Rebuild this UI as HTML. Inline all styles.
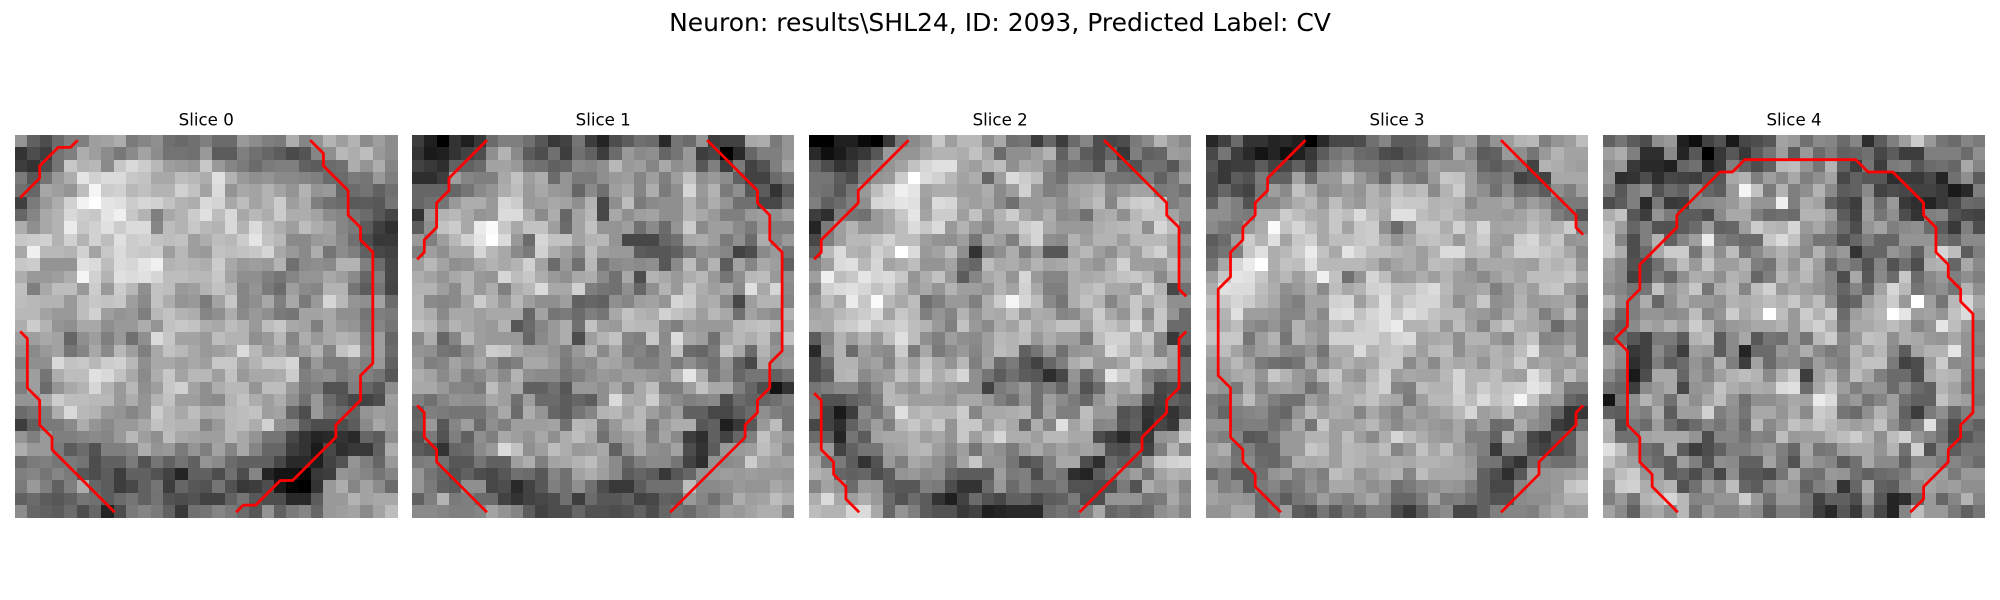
<!DOCTYPE html>
<html lang="en">
<head>
<meta charset="utf-8">
<title>Neuron slices</title>
<style>
html,body{margin:0;padding:0;background:#fff;width:2000px;height:600px;overflow:hidden}
svg{display:block}
text{font-family:"DejaVu Sans",sans-serif;fill:#000}
</style>
</head>
<body>
<svg id="figure" xmlns="http://www.w3.org/2000/svg" width="2000" height="600" viewBox="0 0 2000 600">
<rect x="0" y="0" width="2000" height="600" fill="#fff"/>
<text x="1000" y="31" text-anchor="middle" font-size="25">Neuron: results\SHL24, ID: 2093, Predicted Label: CV</text>
</svg>
<script>
const sliceLabels = ["Slice 0","Slice 1","Slice 2","Slice 3","Slice 4"];
const slice0 = [
[58,38,30,42,50,50,62,64,68,48,52,56,44,41,44,50,42,42,60,55,50,48,68,52,58,70,62,70,55,62,55],
[20,30,24,45,50,68,62,55,47,54,64,55,45,45,44,60,36,36,50,44,40,36,29,33,52,56,72,68,74,60,55],
[24,20,30,46,78,70,72,54,78,85,80,72,62,60,58,78,60,52,48,42,48,50,50,38,36,42,44,68,58,68,52],
[48,34,46,60,68,90,82,86,86,78,76,66,66,74,72,68,88,70,60,56,58,54,54,52,50,42,42,48,46,60,50],
[44,40,65,62,58,74,96,80,82,72,75,70,70,82,76,64,86,58,66,64,70,64,58,70,58,60,40,42,45,38,44],
[25,48,60,68,82,95,100,90,88,80,84,82,76,70,68,85,83,66,74,64,70,80,62,68,50,44,42,35,36,34,46],
[40,52,66,70,85,80,78,90,94,78,70,50,66,70,80,88,74,85,66,72,68,80,68,68,64,55,52,46,42,34,27],
[68,56,66,70,92,78,82,88,80,86,86,52,74,70,78,72,70,85,70,86,74,68,62,74,68,64,52,48,36,25,19],
[78,80,82,70,82,70,82,74,88,80,82,76,74,76,62,68,74,72,80,90,76,72,54,54,60,62,54,44,30,22,22],
[66,94,72,72,70,82,64,78,86,80,78,80,62,72,62,60,76,74,76,78,84,66,60,54,68,46,55,50,38,28,26],
[78,80,58,58,58,88,86,74,86,84,90,94,70,72,70,68,80,66,60,62,60,70,44,54,56,54,70,70,50,42,28],
[68,60,60,62,68,96,82,70,88,86,88,84,74,74,72,72,78,64,56,56,50,46,52,58,58,66,62,54,40,50,28],
[75,50,66,74,74,60,80,60,80,72,56,76,74,60,62,70,76,70,52,58,48,42,62,54,52,70,70,46,36,46,27],
[74,72,70,70,60,74,78,76,78,62,54,76,68,58,60,48,64,78,52,56,66,50,66,48,60,84,72,58,56,64,42],
[72,72,64,60,60,74,82,62,58,60,50,72,76,70,68,52,56,68,54,60,56,48,46,64,64,66,56,56,46,50,48],
[68,80,70,58,56,66,66,56,60,60,68,58,76,78,76,68,66,74,70,60,74,78,66,64,50,66,60,58,48,52,46],
[62,62,66,64,40,56,62,50,60,44,56,86,78,64,64,60,74,70,70,56,60,72,52,68,60,66,70,68,52,62,40],
[58,54,60,64,46,52,66,54,72,62,50,66,76,72,66,60,62,66,86,72,62,66,56,62,70,52,76,82,56,62,42],
[50,56,56,85,76,78,72,80,82,72,56,66,66,62,66,62,78,78,64,70,78,78,84,46,60,48,48,56,50,60,38],
[56,62,46,68,74,74,88,85,76,66,54,68,78,64,72,72,62,76,60,66,66,68,80,50,54,56,48,52,50,46,34],
[50,62,42,58,66,70,84,70,60,72,56,62,78,82,64,56,68,72,72,58,74,74,60,48,50,32,32,50,40,34,55],
[58,58,66,80,74,74,72,72,60,68,58,70,76,62,62,56,54,70,76,68,62,68,56,44,60,42,34,28,26,30,62],
[42,46,50,68,85,72,70,60,58,52,58,80,72,66,74,66,68,72,74,76,62,64,40,30,60,46,42,38,58,62,60],
[24,38,48,48,54,68,58,54,60,60,66,76,72,70,70,52,60,72,74,68,82,56,54,36,30,30,30,36,54,66,60],
[58,50,60,50,50,52,54,52,60,72,62,56,74,66,64,62,62,72,66,58,46,46,28,20,14,16,20,16,40,36,56],
[68,60,60,48,36,42,32,50,50,52,68,58,60,48,58,50,64,52,66,52,40,40,24,20,10,28,18,22,22,38,68],
[42,48,50,46,48,45,30,38,38,48,32,46,38,45,38,58,54,42,38,38,38,28,16,16,12,26,32,58,50,40,60],
[50,52,46,52,48,34,30,36,24,38,38,32,26,14,38,38,30,44,30,52,14,8,8,3,22,24,58,56,52,46,52],
[48,60,50,38,50,68,40,36,24,28,38,46,24,40,34,32,46,32,22,24,30,10,2,0,20,60,68,52,64,55,42],
[38,42,36,34,38,46,44,36,42,46,38,45,32,30,32,26,26,38,46,34,30,30,16,16,36,60,60,70,64,66,66],
[55,40,38,36,42,30,40,14,30,48,52,48,38,22,44,46,52,48,42,34,58,38,48,52,40,60,62,64,54,64,74]
];
const slice1 = [
[24,12,0,20,12,22,42,50,50,44,34,22,26,46,24,14,30,36,44,42,16,46,42,58,24,26,26,66,68,48,58],
[20,10,12,20,26,30,56,70,54,36,30,44,24,44,38,24,42,60,54,56,40,46,60,24,28,0,16,40,50,50,58],
[26,22,18,38,38,42,64,64,60,46,44,38,40,54,52,56,72,60,62,52,66,56,60,34,50,24,48,26,32,50,64],
[18,18,24,62,52,50,50,66,76,62,68,42,58,48,48,56,60,62,52,62,50,62,76,56,60,55,38,26,26,42,48],
[40,40,40,40,46,54,58,68,74,60,66,60,58,40,54,44,62,66,52,68,48,56,84,60,70,48,56,34,36,20,36],
[40,44,46,60,68,68,60,84,80,60,62,66,64,56,70,28,56,74,48,54,56,56,70,58,68,58,44,44,28,28,44],
[20,60,70,72,66,58,60,86,86,68,54,68,40,64,72,28,66,56,62,64,56,56,70,66,60,50,50,60,62,56,62],
[36,56,76,80,66,92,98,78,66,76,76,62,42,64,76,58,58,62,44,54,42,58,80,54,62,62,54,48,60,50,50],
[60,50,62,72,82,90,100,86,60,42,84,76,76,64,70,72,58,28,28,28,40,44,66,68,62,48,56,42,68,52,60],
[50,62,56,66,66,84,72,66,54,48,82,68,62,54,74,62,60,60,36,34,34,38,48,58,56,52,26,30,54,60,46],
[62,72,64,56,58,66,70,66,70,82,64,42,60,44,72,46,54,56,54,56,34,54,74,54,70,36,64,52,66,62,38],
[68,64,58,66,70,60,58,84,74,78,68,60,56,66,68,54,44,66,30,70,66,60,68,72,60,46,56,72,74,60,56],
[70,70,62,54,70,60,68,50,68,72,86,66,66,82,50,46,44,56,40,56,70,60,78,68,62,66,54,88,66,84,54],
[72,54,52,54,64,80,70,60,72,62,56,56,62,38,40,38,56,52,62,64,58,84,80,66,68,54,28,62,70,70,52],
[72,68,54,66,66,62,66,66,66,40,64,46,48,42,50,46,66,76,70,68,82,76,72,62,72,66,44,64,58,54,70],
[76,72,60,70,66,62,60,70,34,42,52,60,68,44,76,62,60,74,72,72,56,50,62,60,60,60,72,74,76,72,64],
[54,68,40,52,72,62,60,60,60,40,54,60,68,30,62,70,76,52,50,78,54,86,66,62,44,66,72,68,74,54,76],
[58,56,46,44,54,62,80,78,66,62,62,58,50,60,70,54,66,50,52,46,56,76,42,40,48,76,66,42,70,58,58],
[62,50,52,64,58,66,56,46,50,66,66,60,48,56,54,66,64,58,50,50,56,48,56,48,44,58,38,28,66,56,60],
[68,64,54,62,50,54,62,54,70,56,54,54,46,50,56,60,58,62,62,58,56,70,90,68,46,56,40,46,46,38,44],
[66,66,60,52,52,48,74,62,66,38,38,44,34,60,60,56,66,52,66,74,50,50,62,76,66,66,50,40,30,8,20],
[50,44,52,58,56,56,66,62,44,62,42,42,36,40,36,56,86,68,66,80,60,54,50,52,54,30,42,38,40,44,50],
[38,50,48,46,46,46,54,66,42,68,58,40,36,46,52,70,72,64,72,62,54,62,38,38,28,28,36,42,56,50,46],
[40,60,34,52,62,42,56,50,62,62,62,64,44,72,70,48,60,70,72,48,62,68,68,34,38,12,22,34,60,74,46],
[32,48,32,50,38,56,50,66,62,58,66,56,68,74,66,44,58,62,66,50,64,54,24,18,38,26,40,50,76,64,60],
[36,32,20,40,42,54,60,86,76,56,62,74,68,60,62,66,38,56,66,56,54,64,30,20,36,60,60,62,74,68,54],
[48,50,44,34,34,46,38,38,62,68,50,64,66,70,74,64,54,40,50,54,54,46,26,18,58,54,56,80,66,62,64],
[58,46,40,32,38,30,28,34,44,42,34,52,44,64,68,62,54,36,40,36,22,34,40,58,60,62,60,62,60,60,58],
[58,48,38,36,56,56,28,30,16,26,34,50,44,56,44,30,22,22,36,44,44,44,74,54,54,56,60,58,58,66,62],
[38,50,70,48,50,42,42,26,20,26,28,30,44,24,42,34,34,38,26,28,38,36,60,52,44,52,68,62,64,74,68],
[54,54,52,50,50,52,64,58,52,36,26,30,30,40,32,32,30,32,38,30,40,46,42,50,52,62,60,64,68,68,54]
];
const slice2 = [
[0,0,12,12,4,0,22,48,54,60,78,62,72,72,56,66,44,46,24,40,24,42,52,30,28,30,48,54,70,60,54],
[16,6,10,18,22,34,60,58,58,66,70,70,68,76,66,42,56,56,62,70,38,54,36,30,40,22,50,38,40,62,60],
[40,30,20,24,44,52,58,64,76,84,88,88,66,62,70,74,56,66,64,54,42,44,42,32,54,36,32,44,44,34,54],
[46,46,36,30,48,58,60,80,100,86,82,72,64,68,40,62,86,80,74,50,44,56,56,58,46,46,44,50,38,48,62],
[46,44,34,46,60,74,84,94,90,64,68,68,62,62,68,54,62,82,60,50,52,64,66,70,54,58,64,64,48,50,44],
[50,38,42,50,56,84,86,90,88,62,86,84,66,62,66,54,44,60,60,62,56,62,68,74,52,74,80,82,76,50,56],
[24,18,50,46,44,60,66,78,90,64,80,80,62,76,60,70,80,66,60,68,54,56,44,66,68,56,72,78,78,64,56],
[14,48,62,70,60,60,66,74,86,78,86,60,70,60,54,68,68,80,84,66,60,60,60,68,70,72,74,56,84,74,44],
[28,50,62,72,72,76,82,74,74,62,58,56,62,46,66,62,50,74,84,56,54,70,62,70,70,62,72,72,72,66,56],
[38,72,86,70,68,82,76,100,86,60,64,74,56,20,50,56,68,50,62,34,34,66,72,62,56,68,62,76,82,64,50],
[52,62,86,88,72,84,64,68,74,58,58,64,44,40,74,66,68,62,70,64,66,70,62,58,68,82,62,62,60,74,58],
[62,94,74,78,90,84,86,78,58,68,76,60,36,52,66,70,58,84,60,52,52,68,66,68,72,76,78,72,54,68,56],
[52,82,86,88,84,76,82,70,60,66,58,70,62,62,58,70,64,82,66,50,50,68,72,76,66,66,60,82,70,28,44],
[60,74,66,92,78,98,72,66,74,44,50,60,60,50,68,80,96,84,74,54,46,68,76,70,52,64,78,68,74,56,56],
[64,66,72,76,80,86,64,78,72,50,58,52,70,58,68,66,76,60,68,66,52,54,66,80,66,58,78,54,78,58,42],
[68,66,78,80,86,76,78,82,74,70,60,50,76,60,54,68,64,76,66,70,76,76,62,78,76,70,86,62,78,42,42],
[36,52,70,62,70,60,74,88,74,56,50,62,56,54,62,72,70,74,60,68,62,62,48,74,82,82,68,78,54,22,40],
[16,56,70,42,62,56,54,80,48,66,48,54,60,52,62,74,70,38,46,60,44,58,60,62,86,78,66,72,52,64,28],
[30,42,70,70,60,64,52,72,62,76,66,58,72,50,64,42,48,34,26,40,50,68,74,60,60,66,82,74,74,62,42],
[30,36,70,72,54,60,62,76,68,80,68,74,84,56,46,36,44,36,34,18,28,58,40,54,90,80,72,50,44,50,42],
[46,50,54,54,44,54,72,62,58,70,64,60,56,56,26,48,52,60,44,50,40,54,32,42,66,64,72,54,28,30,26],
[48,32,32,38,42,48,72,70,62,62,62,58,66,66,60,50,44,58,44,62,54,48,40,58,68,58,56,32,26,38,34],
[50,26,10,24,54,46,58,88,70,74,70,70,80,52,66,66,68,70,44,64,50,50,74,60,60,32,36,20,24,20,30],
[28,26,18,38,50,62,50,72,78,70,78,58,78,78,62,72,66,40,68,52,88,64,72,52,54,34,38,18,28,22,64],
[42,38,14,46,36,64,66,66,70,62,66,58,78,62,72,84,68,68,62,72,72,66,66,30,24,16,26,22,58,60,80],
[56,60,26,38,46,46,62,64,70,72,62,54,62,46,60,56,48,60,66,58,64,60,64,60,32,30,38,26,50,70,52],
[66,46,48,36,20,32,60,50,66,62,56,48,64,78,58,58,46,32,36,50,66,66,30,18,42,36,36,62,78,82,84],
[70,66,40,38,40,30,36,58,60,54,56,40,36,36,36,62,48,50,30,50,46,18,14,36,44,54,62,46,64,70,68],
[52,64,58,42,60,58,36,34,34,50,48,30,20,20,42,60,42,50,42,42,48,32,32,30,30,48,32,68,60,64,52],
[68,86,66,62,68,60,42,32,42,36,20,12,26,42,32,28,38,38,30,36,38,48,30,30,58,58,58,46,48,66,56],
[74,70,70,84,86,66,40,58,50,36,32,32,22,26,12,14,16,16,16,42,46,42,50,66,40,44,40,42,56,60,52]
];
const slice3 = [
[15,25,42,20,20,14,16,12,0,16,28,28,30,44,52,36,36,40,62,50,58,62,44,58,62,70,72,50,58,62,74],
[28,46,24,16,8,14,6,12,22,36,46,50,42,40,30,28,34,38,42,46,68,52,36,38,60,56,46,60,70,64,64],
[34,22,24,24,36,26,28,38,26,46,52,58,48,48,44,46,44,50,62,58,58,60,40,36,42,46,26,70,68,64,62],
[30,22,36,32,48,38,38,64,42,60,60,74,60,52,40,60,50,46,60,78,76,62,48,46,50,26,30,26,66,66,66],
[30,40,30,26,46,62,54,76,66,54,58,62,58,70,62,76,70,74,54,70,80,62,56,44,56,42,44,36,56,50,62],
[38,56,50,32,52,52,60,68,72,60,74,64,60,70,68,80,78,78,70,72,70,54,62,62,66,54,62,56,44,48,48],
[56,56,50,48,66,66,80,74,68,66,78,74,86,74,66,88,88,74,70,74,68,62,62,62,60,64,70,66,50,44,32],
[54,48,46,60,68,98,76,84,74,66,78,64,78,80,56,42,58,78,78,68,82,70,84,64,66,66,74,68,70,80,50],
[36,42,62,80,70,88,64,78,82,66,74,74,78,80,68,58,66,74,76,72,60,72,80,62,60,80,84,72,78,58,60],
[40,46,50,78,88,68,72,80,92,76,66,90,82,74,74,70,68,62,70,86,86,72,74,60,70,82,82,78,74,66,54],
[46,66,84,92,100,68,76,74,88,72,72,72,72,68,58,64,68,62,74,72,68,56,66,66,66,64,62,74,70,74,58],
[62,78,90,88,78,66,72,62,72,94,76,44,58,84,74,60,62,68,62,70,62,60,54,62,68,64,74,74,74,78,66],
[68,88,86,86,74,68,56,60,68,54,74,66,70,82,84,74,74,82,86,72,62,62,66,50,58,68,62,76,78,60,56],
[74,78,84,80,72,66,54,50,64,64,82,84,62,74,88,72,80,84,84,70,56,64,78,56,58,70,60,62,64,66,44],
[68,70,88,62,62,60,52,52,64,54,86,88,76,84,88,78,88,84,76,72,72,62,60,54,64,72,66,50,60,74,52],
[72,68,74,56,52,58,50,70,60,58,74,70,80,82,88,92,70,70,74,60,74,64,52,70,78,68,66,62,42,54,50],
[76,78,78,46,62,70,46,70,64,58,82,82,82,82,76,84,86,64,66,68,56,70,70,60,54,70,76,52,54,60,50],
[66,74,64,54,62,64,54,52,58,46,68,68,86,70,76,78,72,62,72,74,56,66,64,70,66,74,88,60,60,70,50],
[60,64,72,62,48,44,42,46,66,52,64,70,64,66,78,78,54,66,54,70,66,68,58,70,68,80,62,66,62,60,66],
[58,60,66,68,58,78,70,60,54,72,78,62,58,72,82,62,66,64,64,72,84,70,70,74,64,62,88,76,60,74,62],
[62,58,48,68,52,62,64,60,44,52,74,68,66,76,82,52,50,74,70,70,84,70,80,74,78,80,90,86,66,48,48],
[48,46,60,74,58,50,44,44,62,56,66,68,72,76,68,66,48,62,72,72,82,74,86,76,80,96,78,60,62,40,36],
[50,40,50,52,54,44,40,58,72,62,68,66,52,66,58,52,64,58,62,66,72,84,62,66,74,60,62,52,40,20,22],
[58,58,48,50,50,44,50,66,46,78,62,62,66,72,62,54,60,64,60,58,66,54,62,42,44,68,56,52,24,20,42],
[54,50,52,34,36,48,60,60,70,70,62,74,62,54,68,84,74,68,62,60,66,50,50,38,70,52,28,22,32,36,58],
[62,68,44,50,40,40,60,60,78,74,62,72,70,68,74,52,60,76,66,74,62,56,50,22,50,50,30,26,30,36,58],
[60,58,46,54,42,40,48,68,66,68,62,72,70,66,66,68,66,70,70,68,66,60,46,45,28,20,42,48,44,44,54],
[42,50,36,36,44,58,62,50,56,50,74,70,58,62,68,70,52,74,66,66,66,62,38,30,18,34,62,58,60,62,66],
[62,50,54,36,48,52,44,48,58,52,66,66,62,56,60,44,48,54,56,60,58,50,38,28,28,52,58,58,60,76,80],
[64,60,60,58,42,46,36,46,50,62,54,50,60,66,54,40,40,48,64,48,50,44,38,32,32,54,56,56,62,70,70],
[58,58,66,66,42,46,62,36,32,46,36,46,40,50,50,30,22,36,50,55,28,28,38,50,52,52,50,60,66,60,62]
];
const slice4 = [
[38,46,36,30,56,60,12,6,26,32,10,28,30,34,64,60,44,54,52,42,52,18,36,50,62,80,60,46,42,52,48],
[62,68,50,18,18,54,14,34,0,22,34,22,36,46,62,36,60,42,50,38,40,44,28,36,24,24,50,50,50,42,56],
[56,60,22,16,16,12,40,44,14,22,50,38,30,38,72,74,58,46,70,38,24,46,24,48,50,34,42,44,40,66,52],
[58,18,20,30,18,28,26,24,34,34,66,70,50,62,54,66,50,56,64,28,38,34,34,18,22,22,28,14,44,56,36],
[50,34,50,56,32,42,38,52,40,36,60,96,76,48,70,50,56,70,54,36,38,54,26,30,28,26,26,22,10,16,50],
[30,36,50,16,48,22,24,52,54,56,60,70,58,58,94,50,68,64,38,30,24,60,42,60,22,18,14,22,28,42,40],
[68,76,34,24,58,48,36,36,30,54,66,66,50,42,44,42,70,70,62,36,26,62,46,56,30,20,50,52,32,28,26],
[76,62,40,50,32,32,36,42,62,38,40,62,80,72,70,84,60,66,54,42,30,58,64,50,54,56,42,36,22,50,30],
[80,52,30,50,70,38,52,62,92,50,46,42,42,78,86,76,56,46,46,32,40,50,40,40,58,58,58,44,40,54,54],
[80,68,30,42,66,80,80,46,70,56,74,46,54,64,70,64,54,70,54,60,20,40,40,58,52,38,62,84,74,36,50],
[62,54,32,30,44,60,74,60,78,62,62,70,50,46,68,58,74,62,42,52,46,32,52,32,44,30,68,70,40,66,54],
[60,54,26,30,50,40,56,68,66,56,70,66,40,50,72,64,72,60,52,30,66,34,54,42,78,42,54,60,50,56,50],
[56,52,46,46,76,58,66,78,46,68,72,52,74,82,60,66,62,58,52,40,52,40,64,84,72,46,52,56,46,70,56],
[72,56,50,68,40,56,68,60,60,56,70,68,70,74,70,78,66,74,56,36,40,62,70,80,60,100,62,46,72,84,66],
[62,42,50,58,58,54,56,74,52,58,80,66,72,100,74,60,80,70,80,42,62,68,72,100,90,62,64,58,76,86,62],
[46,38,54,66,62,70,62,80,70,54,60,62,66,66,70,60,76,82,70,46,66,66,70,74,68,52,58,90,74,62,50],
[38,44,34,26,48,48,36,70,74,36,54,66,34,46,44,60,46,72,80,54,60,76,74,56,68,66,60,58,66,58,52],
[64,56,22,26,54,42,24,62,60,36,54,14,42,42,60,56,68,54,48,52,72,64,72,54,36,64,70,70,90,58,50],
[64,54,18,26,50,36,42,58,50,70,50,24,64,42,54,56,46,62,54,50,70,76,76,48,26,30,62,80,54,56,58],
[54,44,10,30,66,66,40,60,52,62,70,74,70,54,70,80,24,62,70,54,74,66,50,42,42,30,66,72,70,54,48],
[44,40,24,54,60,66,28,58,60,76,68,64,68,66,86,88,42,66,78,62,50,58,58,42,54,42,38,70,64,50,48],
[8,46,56,70,60,44,66,56,66,74,58,44,56,56,60,66,64,92,86,54,60,46,52,62,44,38,38,76,66,62,46],
[38,36,54,50,68,36,62,62,82,50,56,46,66,66,58,68,54,80,76,46,42,56,70,62,38,24,48,56,40,50,52],
[70,30,48,42,62,44,34,42,52,46,54,42,72,54,62,76,70,78,72,66,62,66,76,56,42,50,88,46,30,44,38],
[68,44,44,64,66,66,66,58,30,52,52,46,52,50,74,60,62,62,70,74,80,70,56,74,82,58,52,44,28,34,42],
[88,76,56,44,40,68,36,24,30,38,50,50,56,60,50,40,66,46,48,62,66,66,58,70,44,82,32,52,36,46,46],
[76,66,62,48,42,36,62,50,32,56,54,38,38,64,48,32,62,56,52,36,44,66,54,54,38,54,54,48,52,48,42],
[64,74,80,58,62,36,40,30,46,28,56,34,34,30,46,66,46,44,60,58,44,38,42,44,48,62,60,62,48,60,60],
[54,80,82,68,66,70,32,44,62,54,74,40,36,54,62,58,38,50,54,20,40,66,38,36,52,54,64,60,62,56,56],
[50,60,46,70,74,84,72,52,52,58,58,80,60,44,60,60,46,26,38,38,30,58,34,14,18,40,60,40,52,70,52],
[64,54,38,62,66,56,72,46,60,52,52,58,54,36,50,50,44,24,16,34,22,48,28,14,52,74,60,60,48,38,46]
];
const contours0 = [
[[0,4.5],[1.5,3],[1.5,2],[3,0.5],[4,0.5],[4.5,0]],
[[23.5,0],[24.5,1],[24.5,2],[26.5,4],[26.5,6],[27.5,7],[27.5,8],[28.5,9],[28.5,18],[27.5,19],[27.5,21],[25.5,23],[25.5,24],[22,27.5],[21,27.5],[19,29.5],[18,29.5],[17.5,30]],
[[0,15.5],[0.5,16],[0.5,20],[1.5,21],[1.5,23],[2.5,24],[2.5,25],[7.5,30]]
];
const contours1 = [
[[0,9.5],[0.5,9],[0.5,8],[1.5,7],[1.5,5],[2.5,4],[2.5,3],[5.5,0]],
[[23.5,0],[27.5,4],[27.5,5],[28.5,6],[28.5,8],[29.5,9],[29.5,17],[28.5,18],[28.5,20],[27.5,21],[27.5,22],[26.5,23],[26.5,24],[20.5,30]],
[[0,21.5],[0.5,22],[0.5,24],[1.5,25],[1.5,26],[5.5,30]]
];
const contours2 = [
[[0,9.5],[0.5,9],[0.5,8],[3.5,5],[3.5,4],[7.5,0]],
[[23.5,0],[28.5,5],[28.5,6],[29.5,7],[29.5,12],[30,12.5]],
[[30,15.5],[29.5,16],[29.5,20],[28.5,21],[28.5,22],[26.5,24],[26.5,25],[21.5,30]],
[[0,20.5],[0.5,21],[0.5,25],[1.5,26],[1.5,27],[2.5,28],[2.5,29],[3.5,30]]
];
const contours3 = [
[[7.5,0],[4.5,3],[4.5,4],[3.5,5],[3.5,6],[2.5,7],[2.5,8],[1.5,9],[1.5,11],[0.5,12],[0.5,19],[1.5,20],[1.5,24],[2.5,25],[2.5,26],[3.5,27],[3.5,28],[5.5,30]],
[[23.5,0],[29.5,6],[29.5,7],[30,7.5]],
[[30,21.5],[29.5,22],[29.5,23],[26.5,26],[26.5,27],[23.5,30]]
];
const contours4 = [
[[5.5,30],[3.5,28],[3.5,27],[2.5,26],[2.5,24],[1.5,23],[1.5,17],[0.5,16],[1.5,15],[1.5,13],[2.5,12],[2.5,10],[5.5,7],[5.5,6],[9,2.5],[10,2.5],[11,1.5],[20,1.5],[21,2.5],[23,2.5],[25.5,5],[25.5,6],[26.5,7],[26.5,9],[27.5,10],[27.5,11],[28.5,12],[28.5,13],[29.5,14],[29.5,22],[28.5,23],[28.5,24],[27.5,25],[27.5,26],[25.5,28],[25.5,29],[24.5,30]]
];
const slices = [slice0, slice1, slice2, slice3, slice4];
const contourSets = [contours0, contours1, contours2, contours3, contours4];

const NS = "http://www.w3.org/2000/svg";
const fig = document.getElementById("figure");
const panelTop = 135;
const panelSize = 382.5;
const panelStep = 396.95;
const panelFirst = 15;
function panelLeft(p){ return panelFirst + p * panelStep; }
function xScale(p, col, n){ return panelLeft(p) + (col + 0.5) * panelSize / n; }
function yScale(row, n){ return panelTop + (row + 0.5) * panelSize / n; }
function grayOf(v){ const g = Math.round(Math.max(0, Math.min(100, v)) * 2.55); return "rgb(" + g + "," + g + "," + g + ")"; }

slices.forEach(function(grid, p){
  const n = grid.length;
  const g = document.createElementNS(NS, "g");
  
  
  g.setAttribute('shape-rendering', 'crispEdges');
  grid.forEach(function(rowVals, r){
    const y0 = Math.round(yScale(r - 0.5, n));
    const y1 = Math.round(yScale(r + 0.5, n));
    rowVals.forEach(function(v, c){
      const x0 = Math.round(xScale(p, c - 0.5, n));
      const x1 = Math.round(xScale(p, c + 0.5, n));
      const cell = document.createElementNS(NS, "rect");
      
      
      cell.setAttribute("x", x0);
      cell.setAttribute("y", y0);
      cell.setAttribute("width", x1 - x0);
      cell.setAttribute("height", y1 - y0);
      cell.setAttribute("fill", grayOf(v));
      g.appendChild(cell);
    });
  });
  fig.appendChild(g);

  contourSets[p].forEach(function(line){
    const pl = document.createElementNS(NS, "polyline");
    
    
    pl.setAttribute("points", line.map(function(pt){ return xScale(p, pt[0], n).toFixed(2) + "," + yScale(pt[1], n).toFixed(2); }).join(" "));
    pl.setAttribute("fill", "none");
    pl.setAttribute("stroke", "#ff0000");
    pl.setAttribute("stroke-width", "2.78");
    pl.setAttribute("stroke-linecap", "square");
    pl.setAttribute("stroke-linejoin", "round");
    fig.appendChild(pl);
  });

  const t = document.createElementNS(NS, "text");
  
  
  t.setAttribute("x", (panelLeft(p) + panelSize / 2).toFixed(2));
  t.setAttribute("y", "125.5");
  t.setAttribute("text-anchor", "middle");
  t.setAttribute("font-size", "16.67");
  t.textContent = sliceLabels[p];
  fig.appendChild(t);
});
</script>
</body>
</html>
